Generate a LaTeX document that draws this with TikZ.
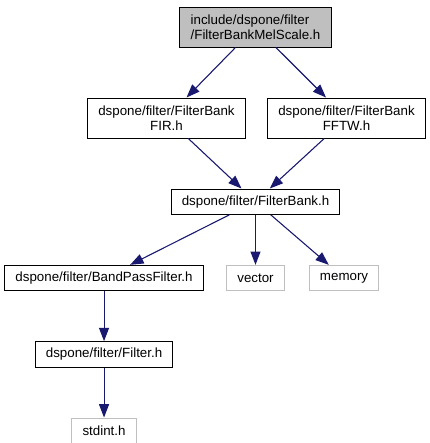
\documentclass[tikz,border=0pt]{standalone}
\usepackage{fontspec}
\setmainfont{Liberation Sans}
\usepackage{xcolor}
\usetikzlibrary{arrows.meta, positioning}

\definecolor{graybox}{HTML}{BFBFBF}
\definecolor{edgeblue}{HTML}{191970}

\begin{document}
\begin{tikzpicture}[
  x=0.75pt, y=-0.75pt,
  node distance=37.5pt and 18pt,
  file/.style={rectangle, draw=black, line width=0.75pt, inner xsep=8pt, inner ysep=0pt, minimum height=19pt, align=center, font=\fontsize{10}{11.3}\selectfont},
  twoline/.style={file, minimum height=30pt},
  mainfile/.style={twoline, fill=graybox, align=left},
  sysfile/.style={file, draw=graybox},
  edge/.style={-{Triangle[length=10pt,width=7.5pt]}, draw=edgeblue, fill=edgeblue, line width=0.8pt}
]
  \useasboundingbox (0,0) rectangle (429,443);
  \node[mainfile] (melscale) at (255.5,27) {include/dspone/filter\\/FilterBankMelScale.h};
  \node[twoline, below=of melscale, xshift=-66.75pt] (fir) {dspone/filter/FilterBank\\FIR.h};
  \node[twoline, below=of melscale, xshift=68.25pt] (fftw) {dspone/filter/FilterBank\\FFTW.h};
  \node[file, below=of fir, xshift=66.75pt] (bank) {dspone/filter/FilterBank.h};
  \node[file, below=of bank, xshift=-113.6pt] (bandpass) {dspone/filter/BandPassFilter.h};
  \node[sysfile, below=of bank] (vector) {vector};
  \node[sysfile, right=of vector] (memory) {memory};
  \node[file, below=of bandpass] (filter) {dspone/filter/Filter.h};
  \node[sysfile, below=of filter] (stdint) {stdint.h};
  \draw[edge] (melscale) -- (fir);
  \draw[edge] (melscale) -- (fftw);
  \draw[edge] (fir) -- (bank);
  \draw[edge] (fftw) -- (bank);
  \draw[edge] (bank) -- (bandpass);
  \draw[edge] (bank) -- (vector);
  \draw[edge] (bank) -- (memory);
  \draw[edge] (bandpass) -- (filter);
  \draw[edge] (filter) -- (stdint);
\end{tikzpicture}
\end{document}
